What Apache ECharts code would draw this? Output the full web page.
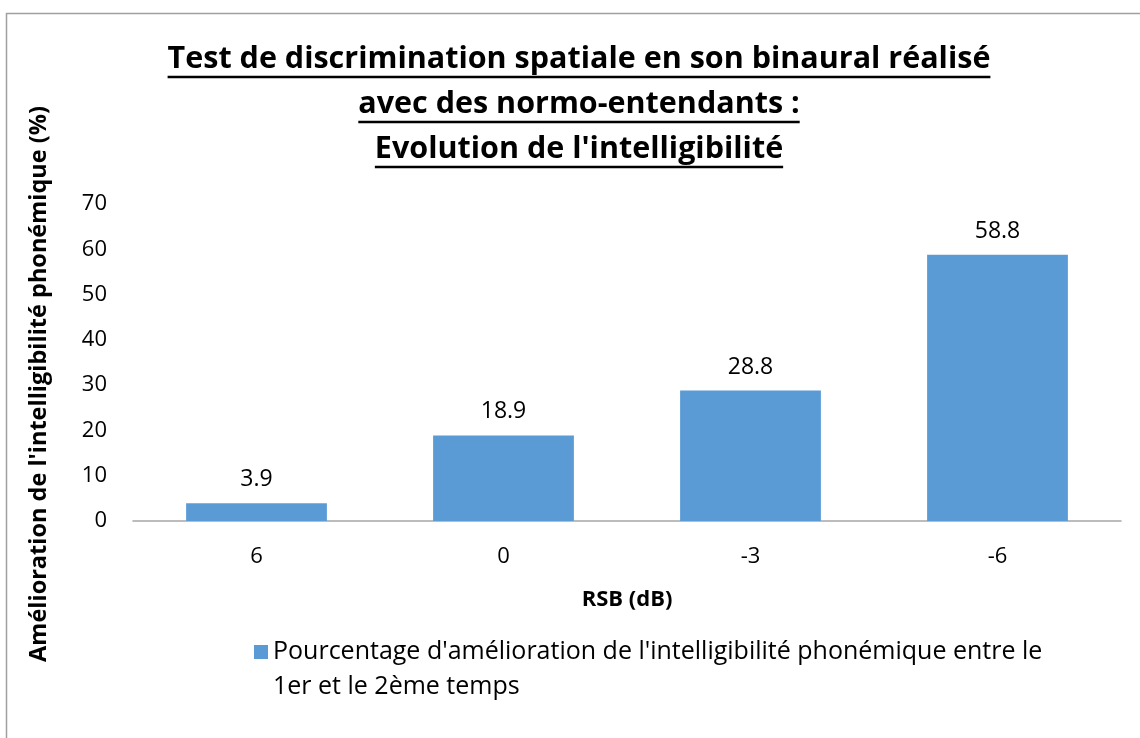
<!DOCTYPE html>
<html>
<head>
<meta charset="utf-8">
<script src="https://cdn.jsdelivr.net/npm/echarts@6/dist/echarts.min.js"></script>
<style>
  html, body { margin: 0; padding: 0; background: #ffffff; }
  #chart { width: 1140px; height: 738px; }
</style>
</head>
<body>
<div id="chart"></div>
<script>
// Signal-to-noise ratio steps (dB) and the gain in phonemic intelligibility (%)
const categories = ['6', '0', '-3', '-6'];
const improvement = [3.9, 18.9, 28.8, 58.8];
const seriesName = "Pourcentage d'amélioration de l'intelligibilité phonémique entre le 1er et le 2ème temps";
const legendLines = [
  "Pourcentage d'amélioration de l'intelligibilité phonémique entre le",
  '1er et le 2ème temps'
];
const titleLines = [
  'Test de discrimination spatiale en son binaural réalisé',
  'avec des normo-entendants :',
  "Evolution de l'intelligibilité"
];
const xAxisTitle = 'RSB (dB)';
const yAxisTitle = "Amélioration de l'intelligibilité phonémique (%)";

const FONT = '"Open Sans", "Liberation Sans", sans-serif';
const TEXT = '#000000';

const chart = echarts.init(document.getElementById('chart'), null, { renderer: 'canvas' });

// measure text so the title underlines fit each line
const measureCtx = document.createElement('canvas').getContext('2d');
function textWidth(str, font) {
  measureCtx.font = font;
  return measureCtx.measureText(str).width;
}

const titleFontSize = 30.5;
const titleFont = 'bold ' + titleFontSize + 'px ' + FONT;
const titleCenterX = 579;
const titleY = [59, 104, 149];
const titleGraphics = [];
titleLines.forEach(function (line, i) {
  titleGraphics.push({
    type: 'text',
    x: titleCenterX,
    y: titleY[i],
    style: {
      text: line,
      fill: TEXT,
      font: titleFont,
      textAlign: 'center',
      textVerticalAlign: 'middle'
    },
    silent: true
  });
  const w = textWidth(line, titleFont);
  titleGraphics.push({
    type: 'line',
    shape: { x1: titleCenterX - w / 2, y1: titleY[i] + 18, x2: titleCenterX + w / 2, y2: titleY[i] + 18 },
    style: { stroke: TEXT, lineWidth: 2.5 },
    silent: true
  });
});

const LEGEND_LINE = 35;

const option = {
  backgroundColor: '#ffffff',
  animation: false,
  grid: { left: 133, right: 19, top: 204, bottom: 217, containLabel: false },
  xAxis: {
    type: 'category',
    data: categories,
    name: xAxisTitle,
    nameLocation: 'middle',
    nameGap: 68,
    nameTextStyle: { fontFamily: FONT, fontSize: 22, fontWeight: 'bold', color: TEXT },
    axisLine: { lineStyle: { color: '#a6a6a6', width: 1.5 } },
    axisTick: { show: false },
    axisLabel: { fontFamily: FONT, fontSize: 22, color: TEXT, margin: 25 },
    splitLine: { show: false }
  },
  yAxis: {
    type: 'value',
    min: 0,
    max: 70,
    interval: 10,
    axisLine: { show: false },
    axisTick: { show: false },
    axisLabel: { fontFamily: FONT, fontSize: 22, color: TEXT, margin: 26 },
    splitLine: { show: false }
  },
  legend: {
    left: 249,
    top: 647 - 1.5 * LEGEND_LINE,
    icon: 'rect',
    itemWidth: 14,
    itemHeight: 14,
    itemGap: 12,
    // a blank leading line keeps the swatch level with the first text line
    formatter: function () {
      return '\u00a0\n' + legendLines.join('\n');
    },
    textStyle: {
      fontFamily: FONT,
      fontSize: 25,
      color: TEXT,
      lineHeight: LEGEND_LINE
    }
  },
  series: [{
    name: seriesName,
    type: 'bar',
    data: improvement,
    barWidth: '57%',
    itemStyle: { color: '#5b9bd5' },
    label: {
      show: true,
      position: 'top',
      distance: 12,
      fontFamily: FONT,
      fontSize: 23,
      color: TEXT,
      formatter: function (p) { return p.value.toFixed(1); }
    }
  }],
  graphic: [
    {
      type: 'rect',
      shape: { x: 6.5, y: 13.5, width: 1300, height: 900 },
      style: { fill: 'none', stroke: '#a0a0a0', lineWidth: 1.5 },
      silent: true,
      z: -1
    },
    {
      type: 'text',
      x: 39,
      y: 384,
      rotation: Math.PI / 2,
      style: {
        text: yAxisTitle,
        fill: TEXT,
        font: 'bold 23.5px ' + FONT,
        textAlign: 'center',
        textVerticalAlign: 'middle'
      },
      silent: true
    }
  ].concat(titleGraphics)
};

chart.setOption(option);
</script>
</body>
</html>
